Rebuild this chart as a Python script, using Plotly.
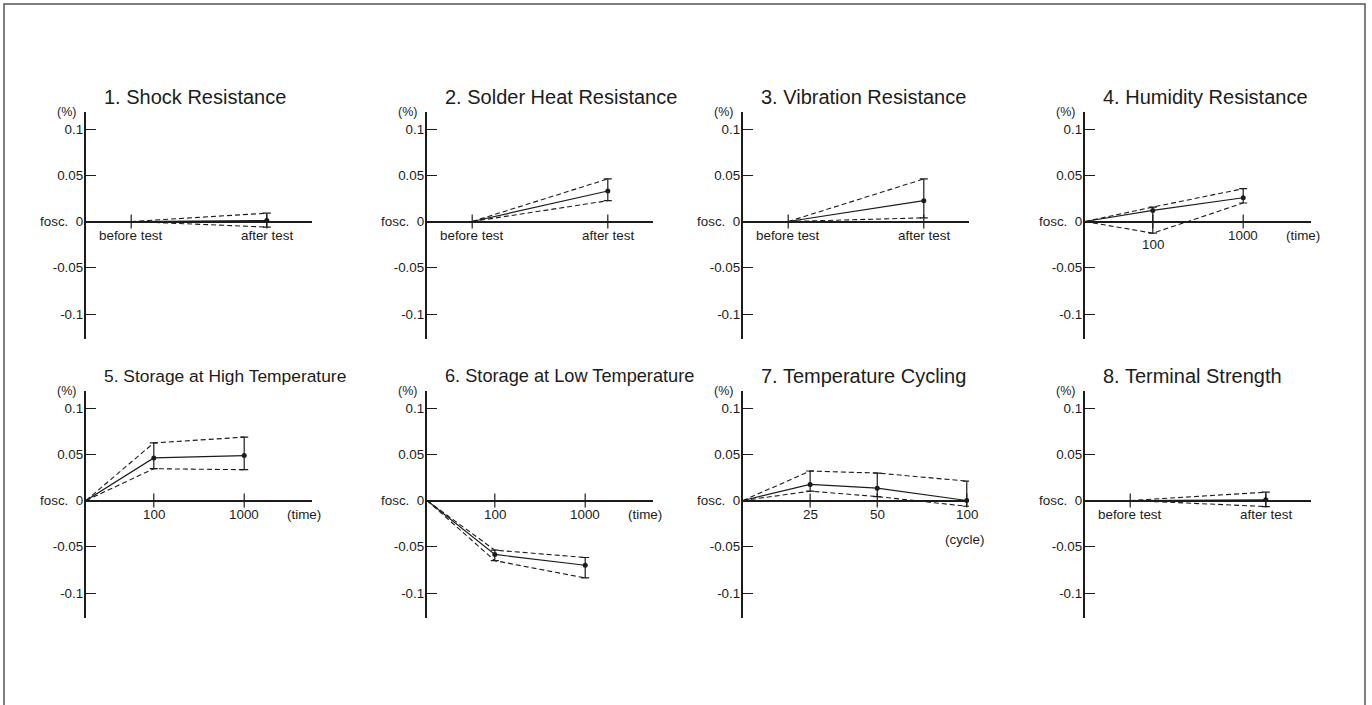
import plotly.graph_objects as go
from plotly.subplots import make_subplots

# ---------------- data ----------------
TITLES = [
    "1. Shock Resistance",
    "2. Solder Heat Resistance",
    "3. Vibration Resistance",
    "4. Humidity Resistance",
    "5. Storage at High Temperature",
    "6. Storage at Low Temperature",
    "7. Temperature Cycling",
    "8. Terminal Strength",
]

Y_TICK_VALUES = [-0.1, -0.05, 0, 0.05, 0.1]
Y_TICK_LABELS = ["-0.1", "-0.05", "fosc.\u00a0\u00a00", "0.05", "0.1"]
Y_UNIT = "(%)"

BEFORE_AFTER = ["before test", "after test"]
TIME_POINTS = ["0", "100", "1000"]
CYCLE_POINTS = ["0", "25", "50", "100"]

# 1. Shock Resistance
SHOCK_MEAN = [0.0, 0.001]
SHOCK_UPPER = [0.0, 0.009]
SHOCK_LOWER = [0.0, -0.006]
# 2. Solder Heat Resistance
SOLDER_MEAN = [0.0, 0.033]
SOLDER_UPPER = [0.0, 0.046]
SOLDER_LOWER = [0.0, 0.0225]
# 3. Vibration Resistance
VIB_MEAN = [0.0, 0.0225]
VIB_UPPER = [0.0, 0.046]
VIB_LOWER = [0.0, 0.004]
# 4. Humidity Resistance
HUM_MEAN = [0.0, 0.012, 0.0257]
HUM_UPPER = [0.0, 0.0156, 0.0355]
HUM_LOWER = [0.0, -0.0126, 0.020]
# 5. Storage at High Temperature
HIGH_MEAN = [0.0, 0.046, 0.0486]
HIGH_UPPER = [0.0, 0.0623, 0.0685]
HIGH_LOWER = [0.0, 0.0344, 0.0333]
# 6. Storage at Low Temperature
LOW_MEAN = [0.0, -0.0583, -0.070]
LOW_UPPER = [0.0, -0.0536, -0.0616]
LOW_LOWER = [0.0, -0.065, -0.0837]
# 7. Temperature Cycling
CYC_MEAN = [0.0, 0.0174, 0.0134, 0.0]
CYC_UPPER = [0.0, 0.0319, 0.0297, 0.021]
CYC_LOWER = [0.0, 0.0101, 0.0043, -0.0062]
# 8. Terminal Strength
TERM_MEAN = [0.0, 0.0007]
TERM_UPPER = [0.0, 0.009]
TERM_LOWER = [0.0, -0.0065]

UNIT_TIME = "(time)"
UNIT_CYCLE = "(cycle)"

# ---------------- layout helpers ----------------
W, H = 1372, 705
FONT = "Liberation Sans, Arial, Helvetica, sans-serif"
INK = "#1c1c1c"
COL_LEFT = [86, 427, 743, 1085]
PLOT_W = 226
ROW_TOP = [112, 391]
PLOT_H = 227
Y_RANGE = [-0.127, 0.1184]
TITLE_SIZES = [20, 20, 20, 20, 17.4, 18.2, 20, 20]
TICK_SIZE = 13.4

# slot positions of categories along each panel's horizontal axis (axis length 10 units)
BA_SLOTS = [2, 8]
TIME_SLOTS = [0, 3, 7]
CYCLE_SLOTS = [0, 3, 6, 10]

panels = [
    dict(cats=BEFORE_AFTER, slots=BA_SLOTS, mean=SHOCK_MEAN, up=SHOCK_UPPER, lo=SHOCK_LOWER, unit=None, xmax=10),
    dict(cats=BEFORE_AFTER, slots=BA_SLOTS, mean=SOLDER_MEAN, up=SOLDER_UPPER, lo=SOLDER_LOWER, unit=None, xmax=10),
    dict(cats=BEFORE_AFTER, slots=BA_SLOTS, mean=VIB_MEAN, up=VIB_UPPER, lo=VIB_LOWER, unit=None, xmax=10),
    dict(cats=TIME_POINTS, slots=TIME_SLOTS, mean=HUM_MEAN, up=HUM_UPPER, lo=HUM_LOWER, unit=UNIT_TIME, xmax=10),
    dict(cats=TIME_POINTS, slots=TIME_SLOTS, mean=HIGH_MEAN, up=HIGH_UPPER, lo=HIGH_LOWER, unit=UNIT_TIME, xmax=10),
    dict(cats=TIME_POINTS, slots=TIME_SLOTS, mean=LOW_MEAN, up=LOW_UPPER, lo=LOW_LOWER, unit=UNIT_TIME, xmax=10),
    dict(cats=CYCLE_POINTS, slots=CYCLE_SLOTS, mean=CYC_MEAN, up=CYC_UPPER, lo=CYC_LOWER, unit=UNIT_CYCLE, xmax=10.1),
    dict(cats=BEFORE_AFTER, slots=BA_SLOTS, mean=TERM_MEAN, up=TERM_UPPER, lo=TERM_LOWER, unit=None, xmax=10),
]

fig = make_subplots(rows=2, cols=4)
annotations = []

for i, p in enumerate(panels):
    r, c = divmod(i, 4)
    xa = "x" if i == 0 else f"x{i+1}"
    ya = "y" if i == 0 else f"y{i+1}"
    xs = p["slots"]
    labelled = [k for k, cat in enumerate(p["cats"]) if cat != "0"]

    # dashed envelope lines
    for series in (p["up"], p["lo"]):
        fig.add_trace(go.Scatter(x=xs, y=series, mode="lines",
                                 line=dict(color=INK, width=1.1, dash="5px,3px"),
                                 hoverinfo="skip", showlegend=False), row=r + 1, col=c + 1)
    # mean line
    fig.add_trace(go.Scatter(x=xs, y=p["mean"], mode="lines",
                             line=dict(color=INK, width=1.2),
                             hoverinfo="skip", showlegend=False), row=r + 1, col=c + 1)
    # mean points with min/max bars (measured points only)
    pts = [k for k in range(1, len(xs))]
    fig.add_trace(go.Scatter(
        x=[xs[k] for k in pts], y=[p["mean"][k] for k in pts], mode="markers",
        marker=dict(color=INK, size=5),
        error_y=dict(type="data", symmetric=False,
                     array=[p["up"][k] - p["mean"][k] for k in pts],
                     arrayminus=[p["mean"][k] - p["lo"][k] for k in pts],
                     color=INK, thickness=1.2, width=4),
        hoverinfo="skip", showlegend=False), row=r + 1, col=c + 1)
    # category tick marks on the zero line
    fig.add_trace(go.Scatter(
        x=[xs[k] for k in labelled], y=[0] * len(labelled), mode="markers",
        marker=dict(symbol="line-ns", size=10, line=dict(color=INK, width=1.2)),
        hoverinfo="skip", showlegend=False), row=r + 1, col=c + 1)

    x0 = COL_LEFT[c] / W
    fig.update_xaxes(domain=[x0, (COL_LEFT[c] + PLOT_W) / W], range=[0, p["xmax"]],
                     visible=False, row=r + 1, col=c + 1)
    top = ROW_TOP[r]
    fig.update_yaxes(domain=[1 - (top + PLOT_H) / H, 1 - top / H], range=Y_RANGE,
                     showline=True, linewidth=2.2, linecolor=INK,
                     ticks="inside", ticklen=10, tickwidth=1.2, tickcolor=INK,
                     tickvals=Y_TICK_VALUES, ticktext=Y_TICK_LABELS,
                     tickfont=dict(family=FONT, size=TICK_SIZE, color=INK),
                     ticklabelstandoff=-2,
                     showgrid=False, zeroline=True, zerolinewidth=2.2, zerolinecolor=INK,
                     row=r + 1, col=c + 1)

    # title
    annotations.append(dict(text=TITLES[i], xref=f"{xa} domain", yref=f"{ya} domain",
                            x=0, y=1, xanchor="left", yanchor="middle", xshift=16, yshift=15,
                            showarrow=False, font=dict(family=FONT, size=TITLE_SIZES[i], color=INK)))
    # unit (%)
    annotations.append(dict(text=Y_UNIT, xref=f"{xa} domain", yref=f"{ya} domain",
                            x=0, y=1, xanchor="right", yanchor="middle", xshift=-8, yshift=0,
                            showarrow=False, font=dict(family=FONT, size=12.5, color=INK)))
    # category labels (pushed lower when the min/max bar crosses the zero line)
    for k in labelled:
        crosses = p["up"][k] > 0 and p["lo"][k] < -0.01
        shift = -23 if crosses else -14
        annotations.append(dict(text=p["cats"][k], xref=xa, yref=ya, x=xs[k], y=0,
                                xanchor="center", yanchor="middle", yshift=shift,
                                showarrow=False, font=dict(family=FONT, size=TICK_SIZE, color=INK)))
    if p["unit"]:
        ushift = -39 if p["unit"] == UNIT_CYCLE else -14
        uxs = 17 if p["unit"] == UNIT_CYCLE else 11
        annotations.append(dict(text=p["unit"], xref=f"{xa} domain", yref=ya, x=1, y=0,
                                xanchor="right", yanchor="middle", xshift=uxs, yshift=ushift,
                                showarrow=False, font=dict(family=FONT, size=TICK_SIZE, color=INK)))

fig.update_layout(
    width=W, height=H, margin=dict(l=0, r=0, t=0, b=0),
    paper_bgcolor="white", plot_bgcolor="white",
    annotations=annotations,
    shapes=[dict(type="rect", xref="paper", yref="paper",
                 x0=4 / W, x1=1365 / W, y0=-0.05, y1=1 - 4 / H,
                 line=dict(color="#555555", width=1.5), fillcolor="rgba(0,0,0,0)", layer="below")],
    font=dict(family=FONT, color=INK),
)

fig.write_html("out.html", config={"displayModeBar": False},
               post_script="document.body.style.margin='0px';document.body.style.overflow='hidden';")
